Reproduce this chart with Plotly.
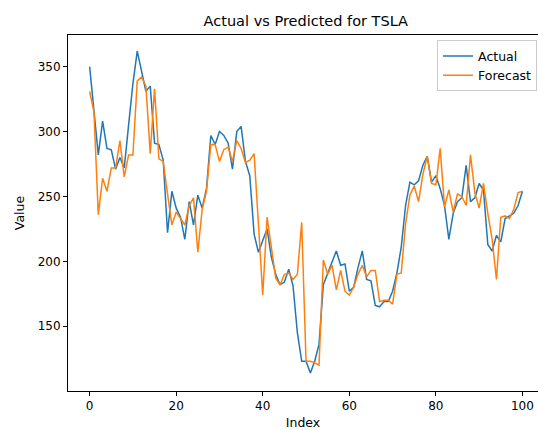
import plotly.graph_objects as go

index = list(range(101))

actual = [350, 316, 282, 308, 287, 286, 271, 280, 272, 305,
          337, 362, 346, 331, 335, 291, 290, 278, 222, 254,
          241, 234, 217, 246, 228, 251, 241, 256, 297, 290,
          300, 297, 291, 271, 300, 304, 277, 266, 221, 207,
          216, 225, 203, 190, 182, 184, 194, 181, 145, 123,
          123, 114, 123, 136, 182, 191, 200, 208, 197, 198,
          177, 180, 195, 208, 186, 185, 166, 165, 169, 169,
          177, 191, 211, 243, 261, 259, 262, 274, 281, 261,
          266, 256, 243, 217, 237, 246, 249, 274, 246, 249,
          260, 255, 213, 208, 220, 215, 233, 235, 237, 243,
          254]

forecast = [331, 315, 236, 264, 254, 272, 272, 293, 265, 282,
            282, 339, 342, 335, 283, 333, 279, 277, 252, 228,
            238, 233, 228, 243, 249, 207, 240, 254, 290, 290,
            277, 286, 288, 277, 293, 287, 276, 278, 283, 229,
            174, 234, 209, 187, 182, 190, 191, 186, 190, 230,
            123, 123, 122, 120, 201, 190, 197, 178, 193, 177,
            174, 180, 190, 197, 188, 193, 193, 169, 170, 170,
            167, 190, 191, 229, 251, 258, 246, 267, 281, 260,
            259, 287, 242, 255, 238, 252, 250, 243, 282, 253,
            241, 260, 237, 217, 186, 234, 235, 233, 240, 253,
            254]

x_ticks = [0, 20, 40, 60, 80, 100]
y_ticks = [150, 200, 250, 300, 350]

FONT = "DejaVu Sans"

fig = go.Figure()
fig.add_trace(go.Scatter(x=index, y=actual, mode="lines", name="Actual",
                         line=dict(color="#1f77b4", width=1.5)))
fig.add_trace(go.Scatter(x=index, y=forecast, mode="lines", name="Forecast",
                         line=dict(color="#ff7f0e", width=1.5)))

fig.update_layout(
    width=538, height=430,
    margin=dict(l=68, r=0, t=35, b=39),
    paper_bgcolor="white", plot_bgcolor="white",
    font=dict(family=FONT, size=12, color="black"),
    title=dict(text="Actual vs Predicted for TSLA", x=0.506, xref="paper",
               xanchor="center", y=1 - 21 / 430, yanchor="middle",
               font=dict(size=14.5, color="black")),
    showlegend=True,
    legend=dict(x=0.998, y=0.985, xanchor="right", yanchor="top",
                bgcolor="rgba(255,255,255,0.8)", bordercolor="#cccccc",
                borderwidth=1, font=dict(size=12.5), tracegroupgap=0,
                itemwidth=30),
    xaxis=dict(range=[-5, 103.6], tickvals=x_ticks, ticks="outside",
               ticklen=4, tickcolor="black", showgrid=False, zeroline=False,
               showline=True, linecolor="black", linewidth=1, mirror=True,
               title=dict(text="Index", standoff=8, font=dict(size=12.5)),
               automargin=False),
    yaxis=dict(range=[100.1, 374.4], tickvals=y_ticks, ticks="outside",
               ticklen=4, tickcolor="black", showgrid=False, zeroline=False,
               showline=True, linecolor="black", linewidth=1,
               title=dict(text="Value", standoff=10, font=dict(size=12.5)),
               automargin=False),
)

fig.write_html("out.html")
